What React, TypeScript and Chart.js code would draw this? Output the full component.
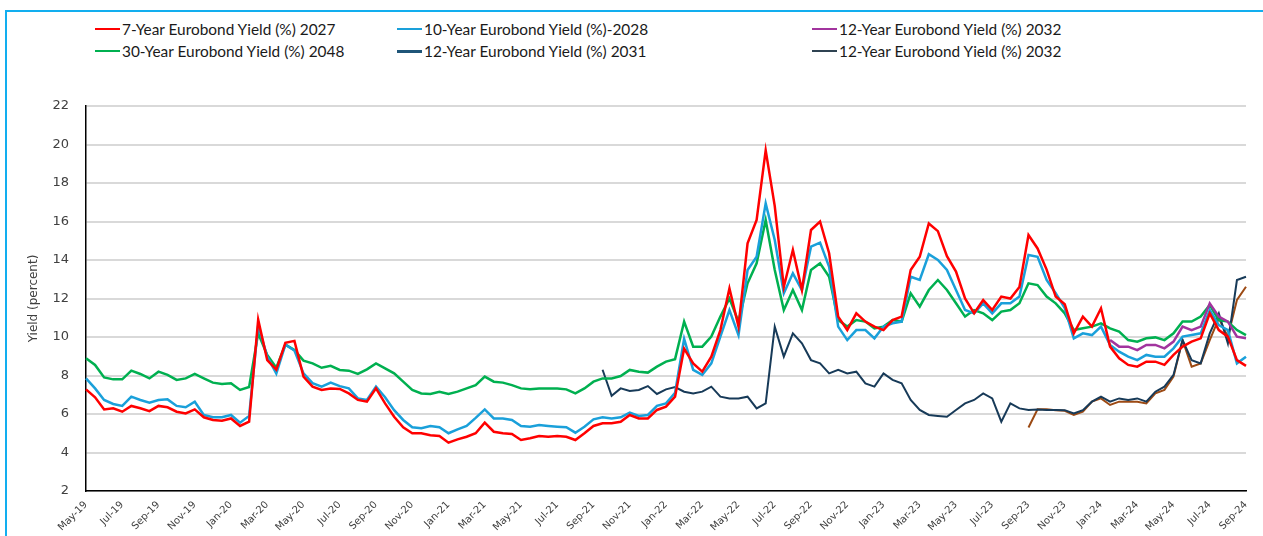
import React, { useEffect, useRef } from "react";
import { Chart, registerables } from "chart.js";

Chart.register(...registerables);

// x-axis tick labels (every second month)
const tickLabels = [
  "May-19", "Jul-19", "Sep-19", "Nov-19",
  "Jan-20", "Mar-20", "May-20", "Jul-20", "Sep-20", "Nov-20",
  "Jan-21", "Mar-21", "May-21", "Jul-21", "Sep-21", "Nov-21",
  "Jan-22", "Mar-22", "May-22", "Jul-22", "Sep-22", "Nov-22",
  "Jan-23", "Mar-23", "May-23", "Jul-23", "Sep-23", "Nov-23",
  "Jan-24", "Mar-24", "May-24", "Jul-24", "Sep-24",
];

const monthNames = ["Jan", "Feb", "Mar", "Apr", "May", "Jun", "Jul", "Aug", "Sep", "Oct", "Nov", "Dec"];

// half-monthly observation dates, 1 May 2019 .. 1 Sep 2024
const categories: string[] = [];
for (let k = 0; k < 129; k++) {
  const m = 4 + Math.floor(k / 2);
  categories.push(`${k % 2 === 0 ? "01" : "16"} ${monthNames[m % 12]} ${2019 + Math.floor(m / 12)}`);
}

// 7-Year Eurobond 2027
const yield7y2027 = [
  7.28, 6.87, 6.24, 6.30, 6.12, 6.42, 6.30, 6.15, 6.42, 6.35,
  6.12, 6.03, 6.24, 5.83, 5.69, 5.65, 5.77, 5.38, 5.60, 10.90,
  8.80, 8.30, 9.70, 9.80, 7.94, 7.42, 7.25, 7.33, 7.30, 7.07,
  6.73, 6.64, 7.33, 6.55, 5.86, 5.31, 5.00, 5.00, 4.90, 4.86,
  4.51, 4.68, 4.82, 5.00, 5.55, 5.08, 5.00, 4.96, 4.65, 4.74,
  4.86, 4.82, 4.86, 4.82, 4.65, 5.00, 5.38, 5.52, 5.52, 5.60,
  5.95, 5.77, 5.77, 6.21, 6.38, 6.90, 9.40, 8.63, 8.20, 8.98,
  10.36, 12.53, 10.54, 14.87, 16.08, 19.70, 16.80, 12.60, 14.52, 12.44,
  15.56, 16.00, 14.35, 11.06, 10.36, 11.23, 10.80, 10.54, 10.36, 10.88,
  11.06, 13.48, 14.17, 15.90, 15.50, 14.20, 13.40, 12.00, 11.23, 11.92,
  11.40, 12.10, 12.00, 12.60, 15.30, 14.60, 13.50, 12.10, 11.70, 10.19,
  11.06, 10.54, 11.49, 9.50, 8.89, 8.55, 8.46, 8.72, 8.72, 8.55,
  9.07, 9.50, 9.76, 9.93, 11.23, 10.36, 10.02, 8.80, 8.50,
];

// 10-Year Eurobond 2028
const yield10y2028 = [
  7.85, 7.33, 6.73, 6.52, 6.42, 6.90, 6.73, 6.59, 6.73, 6.76,
  6.42, 6.35, 6.64, 5.95, 5.83, 5.83, 5.95, 5.55, 5.90, 10.60,
  8.98, 8.10, 9.60, 9.30, 8.11, 7.60, 7.42, 7.63, 7.45, 7.33,
  6.81, 6.73, 7.42, 6.87, 6.20, 5.69, 5.31, 5.26, 5.38, 5.31,
  5.00, 5.20, 5.38, 5.80, 6.24, 5.77, 5.77, 5.69, 5.38, 5.34,
  5.43, 5.38, 5.34, 5.31, 5.03, 5.34, 5.72, 5.83, 5.77, 5.83,
  6.07, 5.90, 5.95, 6.42, 6.55, 7.10, 9.90, 8.29, 8.03, 8.63,
  10.02, 11.40, 10.10, 13.48, 14.17, 16.94, 15.04, 12.27, 13.31, 12.44,
  14.69, 14.90, 13.65, 10.54, 9.84, 10.36, 10.36, 9.93, 10.54, 10.71,
  10.80, 13.13, 12.96, 14.30, 14.00, 13.48, 12.44, 11.40, 11.23, 11.75,
  11.23, 11.75, 11.75, 12.10, 14.26, 14.17, 12.96, 12.27, 11.50, 9.93,
  10.19, 10.10, 10.54, 9.59, 9.24, 8.98, 8.80, 9.07, 8.98, 8.98,
  9.41, 10.02, 10.10, 10.19, 11.40, 10.62, 10.36, 8.63, 8.98,
];

// 30-Year Eurobond 2048
const yield30y2048 = [
  8.90, 8.55, 7.90, 7.80, 7.80, 8.25, 8.08, 7.85, 8.20, 8.03,
  7.77, 7.85, 8.08, 7.85, 7.63, 7.56, 7.60, 7.25, 7.40, 10.20,
  9.06, 8.40, 9.60, 9.32, 8.77, 8.63, 8.40, 8.50, 8.29, 8.25,
  8.08, 8.32, 8.63, 8.37, 8.11, 7.68, 7.25, 7.07, 7.04, 7.16,
  7.04, 7.16, 7.33, 7.50, 7.94, 7.68, 7.63, 7.50, 7.33, 7.28,
  7.33, 7.33, 7.33, 7.28, 7.07, 7.33, 7.68, 7.85, 7.85, 7.97,
  8.29, 8.20, 8.15, 8.46, 8.72, 8.85, 10.80, 9.50, 9.50, 10.02,
  11.06, 12.00, 10.80, 12.79, 13.83, 16.08, 13.48, 11.40, 12.44, 11.40,
  13.48, 13.83, 13.13, 10.88, 10.54, 10.88, 10.80, 10.45, 10.54, 10.88,
  10.80, 12.27, 11.58, 12.44, 12.96, 12.44, 11.75, 11.06, 11.40, 11.23,
  10.88, 11.32, 11.40, 11.75, 12.79, 12.70, 12.10, 11.75, 11.23, 10.36,
  10.45, 10.54, 10.71, 10.45, 10.28, 9.84, 9.76, 9.93, 9.98, 9.84,
  10.19, 10.80, 10.80, 11.06, 11.66, 10.88, 10.80, 10.36, 10.10,
];

// 12-Year Eurobond 2031 (first quoted mid-Sep 2021)
const yield12y2031Start = 57;
const yield12y2031 = [
  8.30, 6.95, 7.33,
  7.20, 7.25, 7.45, 7.04, 7.28, 7.40, 7.16, 7.07, 7.16, 7.42,
  6.90, 6.81, 6.81, 6.90, 6.29, 6.55, 10.54, 8.98, 10.19, 9.67,
  8.80, 8.63, 8.11, 8.29, 8.11, 8.20, 7.59, 7.42, 8.11, 7.77,
  7.59, 6.73, 6.21, 5.95, 5.90, 5.86, 6.21, 6.55, 6.73, 7.07,
  6.81, 5.60, 6.55, 6.29, 6.21, 6.24, 6.21, 6.21, 6.20, 6.03,
  6.20, 6.64, 6.90, 6.64, 6.81, 6.73, 6.81, 6.64, 7.16, 7.42,
  8.03, 9.84, 8.80, 8.63, 10.19, 11.23, 9.67, 12.96, 13.13,
];

// 12-Year Eurobond 2032 (first series, from Jan 2024)
const yield12y2032aStart = 113;
const yield12y2032a = [
  9.84, 9.50, 9.50, 9.32, 9.59, 9.59, 9.41,
  9.76, 10.54, 10.36, 10.54, 11.75, 11.06, 10.80, 10.02, 9.93,
];

// 12-Year Eurobond 2032 (second series, from Sep 2023)
const yield12y2032bStart = 104;
const yield12y2032b = [
  5.30, 6.25, 6.25, 6.20, 6.17, 5.95,
  6.12, 6.64, 6.81, 6.47, 6.64, 6.64, 6.64, 6.55, 7.07, 7.25,
  7.94, 9.84, 8.46, 8.63, 9.84, 10.97, 10.02, 11.92, 12.61,
];

const yTicksMin = 2;
const yTicksMax = 22;
const yTicksStep = 2;

const padFrom = (start: number, vals: number[]) =>
  [...Array(start).fill(null), ...vals] as (number | null)[];

type Series = {
  label: string;
  data: (number | null)[];
  color: string;
  legendColor: string;
  width: number;
  legendWidth: number;
};

const series: Series[] = [
  { label: "7-Year Eurobond Yield (%) 2027", data: yield7y2027, color: "#FF0000", legendColor: "#FF0000", width: 2.5, legendWidth: 2 },
  { label: "10-Year Eurobond Yield (%)-2028", data: yield10y2028, color: "#1AA0DA", legendColor: "#1AA0DA", width: 2.5, legendWidth: 2 },
  { label: "12-Year Eurobond Yield (%) 2032", data: padFrom(yield12y2032aStart, yield12y2032a), color: "#A2349E", legendColor: "#A2349E", width: 2.5, legendWidth: 2 },
  { label: "30-Year Eurobond Yield (%) 2048", data: yield30y2048, color: "#00B050", legendColor: "#00B050", width: 2.5, legendWidth: 2 },
  { label: "12-Year Eurobond Yield (%) 2031", data: padFrom(yield12y2031Start, yield12y2031), color: "#173A58", legendColor: "#1F5578", width: 2, legendWidth: 3 },
  { label: "12-Year Eurobond Yield (%) 2032", data: padFrom(yield12y2032bStart, yield12y2032b), color: "#9C4A14", legendColor: "#2F4352", width: 2, legendWidth: 2 },
];

// legend grid: rows of series indices
const legendGrid = [
  [0, 1, 2],
  [3, 4, 5],
];
const legendColX = [95, 397, 812];
const legendRowY = [29, 51];

export default function App() {
  const canvasRef = useRef<HTMLCanvasElement | null>(null);

  useEffect(() => {
    const canvas = canvasRef.current;
    if (!canvas) return;
    const chart = new Chart(canvas, {
      type: "line",
      data: {
        labels: categories,
        datasets: series.map((s) => ({
          label: s.label,
          data: s.data,
          borderColor: s.color,
          backgroundColor: s.color,
          borderWidth: s.width,
          pointRadius: 0,
          pointHoverRadius: 0,
          tension: 0,
          spanGaps: false,
          fill: false,
        })),
      },
      options: {
        animation: false,
        responsive: false,
        devicePixelRatio: 1,
        layout: { padding: { left: 0, top: 106, right: 17, bottom: 0 } },
        plugins: {
          legend: { display: false },
          tooltip: { enabled: false },
          title: { display: false },
        },
        scales: {
          x: {
            type: "category",
            offset: false,
            grid: { display: false, drawTicks: false },
            border: { display: true, color: "#000000", width: 1.5 },
            ticks: {
              autoSkip: false,
              minRotation: 45,
              maxRotation: 45,
              padding: 8,
              color: "#404040",
              font: { family: "DejaVu Sans", size: 10 },
              callback: (_v: any, index: number) =>
                index % 4 === 0 ? tickLabels[index / 4] : null,
            },
            afterFit: (scale: any) => {
              scale.height = 45;
            },
          },
          y: {
            type: "linear",
            min: yTicksMin,
            max: yTicksMax,
            grid: { color: "#D9D9D9", lineWidth: 2, drawTicks: false },
            border: { display: true, color: "#000000", width: 1.5 },
            ticks: {
              stepSize: yTicksStep,
              padding: 17,
              color: "#404040",
              font: { family: "DejaVu Sans", size: 13 },
            },
            title: {
              display: true,
              text: "Yield (percent)",
              color: "#404040",
              font: { family: "DejaVu Sans", size: 12 },
              padding: { top: 27, bottom: 0 },
            },
            afterFit: (scale: any) => {
              scale.width = 86;
            },
          },
        },
      },
    });
    return () => chart.destroy();
  }, []);

  return (
    <div
      style={{
        position: "absolute",
        left: 0,
        top: 0,
        width: 1263,
        height: 536,
        overflow: "hidden",
        background: "#ffffff",
      }}
    >
      <div
        style={{
          position: "absolute",
          left: 5,
          top: 10,
          width: 1400,
          height: 700,
          border: "2px solid #12AEEF",
          boxSizing: "border-box",
        }}
      />
      {legendGrid.map((row, r) =>
        row.map((si, c) => {
          const s = series[si];
          return (
            <div
              key={`${r}-${c}`}
              style={{
                position: "absolute",
                left: legendColX[c],
                top: legendRowY[r] - 10,
                height: 20,
                display: "flex",
                alignItems: "center",
                whiteSpace: "nowrap",
              }}
            >
              <span
                style={{
                  display: "inline-block",
                  width: 25,
                  height: s.legendWidth,
                  background: s.legendColor,
                }}
              />
              <span
                style={{
                  marginLeft: 2,
                  fontFamily: "Lato, sans-serif",
                  fontSize: 15.4,
                  color: "#1A1A1A",
                }}
              >
                {s.label}
              </span>
            </div>
          );
        })
      )}
      <canvas
        ref={canvasRef}
        width={1263}
        height={536}
        style={{ position: "absolute", left: 0, top: 0, width: 1263, height: 536 }}
      />
    </div>
  );
}
